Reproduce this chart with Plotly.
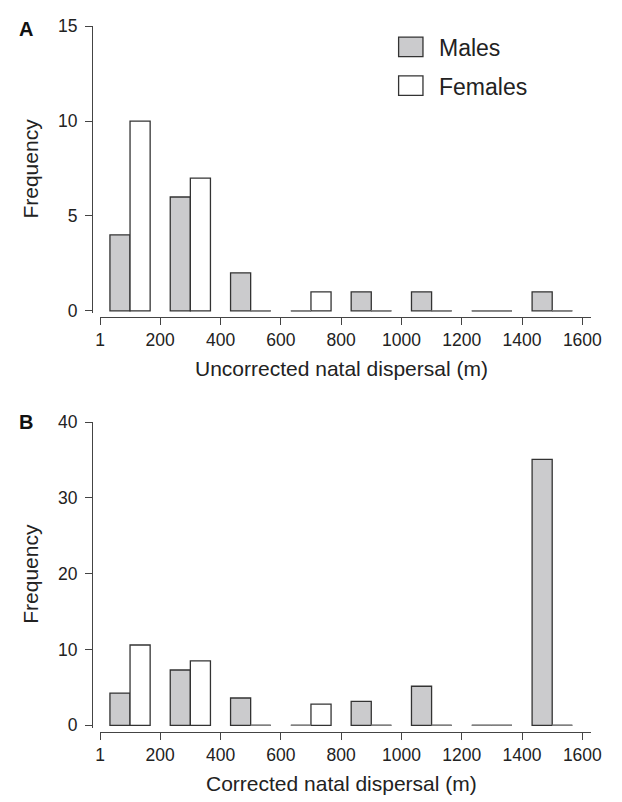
import plotly.graph_objects as go

# ---------------- data ----------------
bin_centers = [100, 300, 500, 700, 900, 1100, 1300, 1500]
bin_size = 200
tick_vals = [1, 200, 400, 600, 800, 1000, 1200, 1400, 1600]
tick_text = ["1", "200", "400", "600", "800", "1000", "1200", "1400", "1600"]

males_A = [4, 6, 2, 0, 1, 1, 0, 1]
females_A = [10, 7, 0, 1, 0, 0, 0, 0]
males_B = [4.25, 7.3, 3.6, 0, 3.15, 5.15, 0, 35.1]
females_B = [10.6, 8.5, 0, 2.8, 0, 0, 0, 0]

yticks_A = [0, 5, 10, 15]
yticks_B = [0, 10, 20, 30, 40]

series_names = ["Males", "Females"]
xtitle_A = "Uncorrected natal dispersal (m)"
xtitle_B = "Corrected natal dispersal (m)"
ytitle = "Frequency"

# ---------------- style ----------------
W, H = 622, 802
FONT = "Liberation Sans, Arial, Helvetica, sans-serif"
TXT = "#222222"
AXC = "#444444"
MALE_FILL = "#cbcbcd"
FEMALE_FILL = "#ffffff"
EDGE = "#333333"
ZERO = "#808080"
TICKSIZE = 17.5
bw = bin_size / 3.0

def px2x(p):
    return p / W

def py2y(p):
    return 1 - p / H

# pixel geometry
x_left_px, x_right_px = 97.7, 601.0
x_lo = 1
x_hi = 1 + (x_right_px - x_left_px) / ((592.6 - 97.7) / 1599.0)
yaxis_px = 89.3

panels = [
    dict(m=males_A, f=females_A, yt=yticks_A, ymax=15, py0=307.7, pytop=16.7,
         xline=314.3, title=xtitle_A, title_py=366.7, label="A", label_py=19),
    dict(m=males_B, f=females_B, yt=yticks_B, ymax=40, py0=731.7, pytop=421.7,
         xline=738.5, title=xtitle_B, title_py=791.0, label="B", label_py=421),
]

fig = go.Figure()
layout = dict(width=W, height=H, margin=dict(l=0, r=0, t=0, b=0),
              paper_bgcolor="white", plot_bgcolor="white", showlegend=False,
              font=dict(family=FONT, color=TXT, size=17), barmode="overlay")
annotations = []
shapes = []

for i, p in enumerate(panels):
    xa = "x" if i == 0 else "x2"
    ya = "y" if i == 0 else "y2"
    xkey = "xaxis" if i == 0 else "xaxis2"
    ykey = "yaxis" if i == 0 else "yaxis2"
    unit = (p["py0"] - p["pytop"]) / p["ymax"]
    ypad = 2.3 / unit
    ybot_px = p["py0"] + 2.3

    # bars
    fig.add_trace(go.Bar(x=bin_centers, y=p["m"], width=bw, offset=-bw,
                         marker=dict(color=MALE_FILL, line=dict(color=EDGE, width=1.3)),
                         xaxis=xa, yaxis=ya, name=series_names[0]))
    fig.add_trace(go.Bar(x=bin_centers, y=p["f"], width=bw, offset=0,
                         marker=dict(color=FEMALE_FILL, line=dict(color=EDGE, width=1.3)),
                         xaxis=xa, yaxis=ya, name=series_names[1]))
    # zero-height bars drawn as flat lines
    zx, zy = [], []
    for c, mv, fv in zip(bin_centers, p["m"], p["f"]):
        if mv == 0:
            zx += [c - bw, c, None]
            zy += [0, 0, None]
        if fv == 0:
            zx += [c, c + bw, None]
            zy += [0, 0, None]
    fig.add_trace(go.Scatter(x=zx, y=zy, mode="lines",
                             line=dict(color=ZERO, width=1.5),
                             xaxis=xa, yaxis=ya, hoverinfo="skip"))

    layout[xkey] = dict(domain=[px2x(x_left_px), px2x(x_right_px)],
                        range=[x_lo, x_hi], anchor="free",
                        position=py2y(p["xline"]),
                        tickmode="array", tickvals=tick_vals, ticktext=tick_text,
                        showline=True, linecolor=AXC, linewidth=1,
                        ticks="outside", ticklen=7, tickcolor=AXC, tickwidth=1,
                        showgrid=False, zeroline=False,
                        tickfont=dict(size=TICKSIZE, color=TXT, family=FONT))
    layout[ykey] = dict(domain=[py2y(ybot_px), py2y(p["pytop"])],
                        range=[-ypad, p["ymax"]], anchor="free",
                        position=px2x(yaxis_px),
                        tickmode="array", tickvals=p["yt"],
                        showline=True, linecolor=AXC, linewidth=1,
                        ticks="outside", ticklen=7, tickcolor=AXC, tickwidth=1,
                        ticklabelstandoff=4,
                        showgrid=False, zeroline=False,
                        tickfont=dict(size=TICKSIZE, color=TXT, family=FONT))

    annotations.append(dict(text=p["title"], xref="paper", yref="paper",
                            x=px2x((97.7 + 592.6) / 2), y=py2y(p["title_py"]),
                            xanchor="center", yanchor="middle", showarrow=False,
                            font=dict(size=21, color=TXT, family=FONT)))
    annotations.append(dict(text=ytitle, xref="paper", yref="paper",
                            x=px2x(26.7), y=py2y((p["py0"] + p["pytop"]) / 2),
                            xanchor="center", yanchor="middle", textangle=-90,
                            showarrow=False, font=dict(size=21, color=TXT, family=FONT)))
    annotations.append(dict(text="<b>" + p["label"] + "</b>", xref="paper", yref="paper",
                            x=px2x(22), y=py2y(p["label_py"]),
                            xanchor="center", yanchor="middle", showarrow=False,
                            font=dict(size=20, color="#111111", family=FONT)))

# legend (manual)
legend_rows = [(series_names[0], MALE_FILL, 27.7), (series_names[1], FEMALE_FILL, 67.3)]
for name, fill, top in legend_rows:
    shapes.append(dict(type="rect", xref="paper", yref="paper",
                       x0=px2x(404), x1=px2x(429), y0=py2y(top + 20), y1=py2y(top),
                       fillcolor=fill, line=dict(color=EDGE, width=1.3)))
    annotations.append(dict(text=name, xref="paper", yref="paper",
                            x=px2x(443), y=py2y(top + 11.5), xanchor="left",
                            yanchor="middle", showarrow=False,
                            font=dict(size=23, color=TXT, family=FONT)))

layout["annotations"] = annotations
layout["shapes"] = shapes
fig.update_layout(**layout)
fig.write_html("out.html", config={"displayModeBar": False},
               post_script="document.body.style.margin='0';document.body.style.overflow='hidden';")
